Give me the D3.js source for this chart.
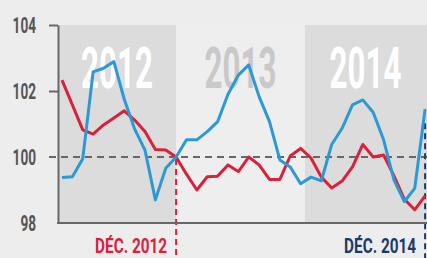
<!DOCTYPE html>
<html><head><meta charset="utf-8">
<script src="https://cdn.jsdelivr.net/npm/d3@7"></script>
<style>html,body{margin:0;padding:0;background:#ededed;overflow:hidden}</style>
</head><body>
<svg id="c" width="427" height="258"></svg>
<script>
// ---- data ----
const years = ["2012", "2013", "2014"];
// month index 0 = Jan 2012 ... 35 = Dec 2014
const redSeries = [102.33,101.58,100.82,100.69,100.97,101.18,101.40,101.12,100.77,100.23,100.21,100.00,
                   99.48,99.00,99.40,99.42,99.76,99.56,100.00,99.76,99.32,99.32,100.03,100.26,
                   99.97,99.39,99.06,99.27,99.70,100.38,100.00,100.06,99.43,98.72,98.40,98.82];
const blueSeries = [99.38,99.40,99.95,102.58,102.69,102.89,101.75,100.85,100.21,98.70,99.66,100.00,
                    100.52,100.52,100.77,101.07,101.90,102.48,102.79,101.83,101.07,99.91,99.70,99.19,
                    99.39,99.28,100.38,100.87,101.58,101.73,101.35,100.52,99.30,98.65,99.05,101.45];
const yTicks = [98, 100, 102, 104];
const markers = [{label: "DÉC. 2012", month: 11, series: "red"}, {label: "DÉC. 2014", month: 35, series: "blue"}];
// ---- chart ----
const svg = d3.select("#c");
const W = 427, H = 258;
const x = d3.scaleLinear().domain([0, 35]).range([62, 425.1]);
const y = d3.scaleLinear().domain([98, 104]).range([223, 25]);
const RED = "#d8213b", BLUE = "#2b9ad4", NAVY = "#1b3a6b", AX = "#676767";

// condensed text helper: squeezes horizontally to a target width
function condensed(sel, txt, px, py, size, targetW, anchor, color) {
  const t = sel.append("text").text(txt).attr("font-family", "Roboto").attr("font-weight", 700)
    .attr("font-size", size).attr("fill", color);
  const w = t.node().getComputedTextLength();
  const s = targetW / w;
  const x0 = anchor === "end" ? px - targetW : (anchor === "middle" ? px - targetW / 2 : px);
  t.attr("transform", `translate(${x0},${py}) scale(${s},1)`);
  return t;
}

svg.append("rect").attr("width", W).attr("height", H).attr("fill", "#ededed");

// year bands
const bandEdges = [[58, x(11)], [x(11), x(23.42)], [x(23.42), W]];
const bandFill = ["#dcdcdc", "#eeeeee", "#dcdcdc"];
const yearColor = ["#ffffff", "#c9c9c9", "#ffffff"];
years.forEach((yr, i) => {
  const [a, b] = bandEdges[i];
  svg.append("rect").attr("x", a).attr("y", y(104)).attr("width", b - a).attr("height", y(98) - y(104)).attr("fill", bandFill[i]);
  const cx = i === 2 ? 365.5 : (a + b) / 2;
  condensed(svg, yr, cx, 88, 57, 72, "middle", yearColor[i]);
});

// reference dashed line at 100
svg.append("line").attr("x1", 49).attr("x2", W).attr("y1", y(100)).attr("y2", y(100))
  .attr("stroke", AX).attr("stroke-width", 2).attr("stroke-dasharray", "7,5");

// vertical markers
markers.forEach(m => {
  const col = m.series === "red" ? RED : NAVY;
  const v = m.series === "red" ? redSeries[m.month] : blueSeries[m.month];
  const off = m.series === "red" ? 2 : 14;
  svg.append("line").attr("x1", x(m.month)).attr("x2", x(m.month)).attr("y1", y(v) + off).attr("y2", H)
    .attr("stroke", col).attr("stroke-width", 2).attr("stroke-dasharray", "6,4");
  condensed(svg, m.label, x(m.month) - 9, 253, 20, 72, "end", col);
});

// axes
const yAxis = d3.axisLeft(y).tickValues(yTicks).tickSizeInner(9).tickSizeOuter(0).tickFormat(() => "");
const gy = svg.append("g").attr("transform", "translate(58,0)").call(yAxis);
gy.select(".domain").attr("stroke", AX).attr("stroke-width", 2);
gy.selectAll(".tick line").attr("stroke", AX).attr("stroke-width", 2)
  .attr("display", d => (d === 98 || d === 100) ? "none" : null);
yTicks.forEach(d => condensed(svg, String(d), 36, y(d) + 8, 22.5, String(d).length * 7.8, "end", "#555"));
svg.append("line").attr("x1", 57).attr("x2", W).attr("y1", y(98)).attr("y2", y(98)).attr("stroke", AX).attr("stroke-width", 2);

// series lines
const line = d3.line().x((d, i) => x(i)).y(d => y(d));
svg.append("path").datum(redSeries).attr("d", line).attr("fill", "none").attr("stroke", RED).attr("stroke-width", 3).attr("stroke-linejoin", "round");
svg.append("path").datum(blueSeries).attr("d", line).attr("fill", "none").attr("stroke", BLUE).attr("stroke-width", 3).attr("stroke-linejoin", "round");
</script>
</body></html>
